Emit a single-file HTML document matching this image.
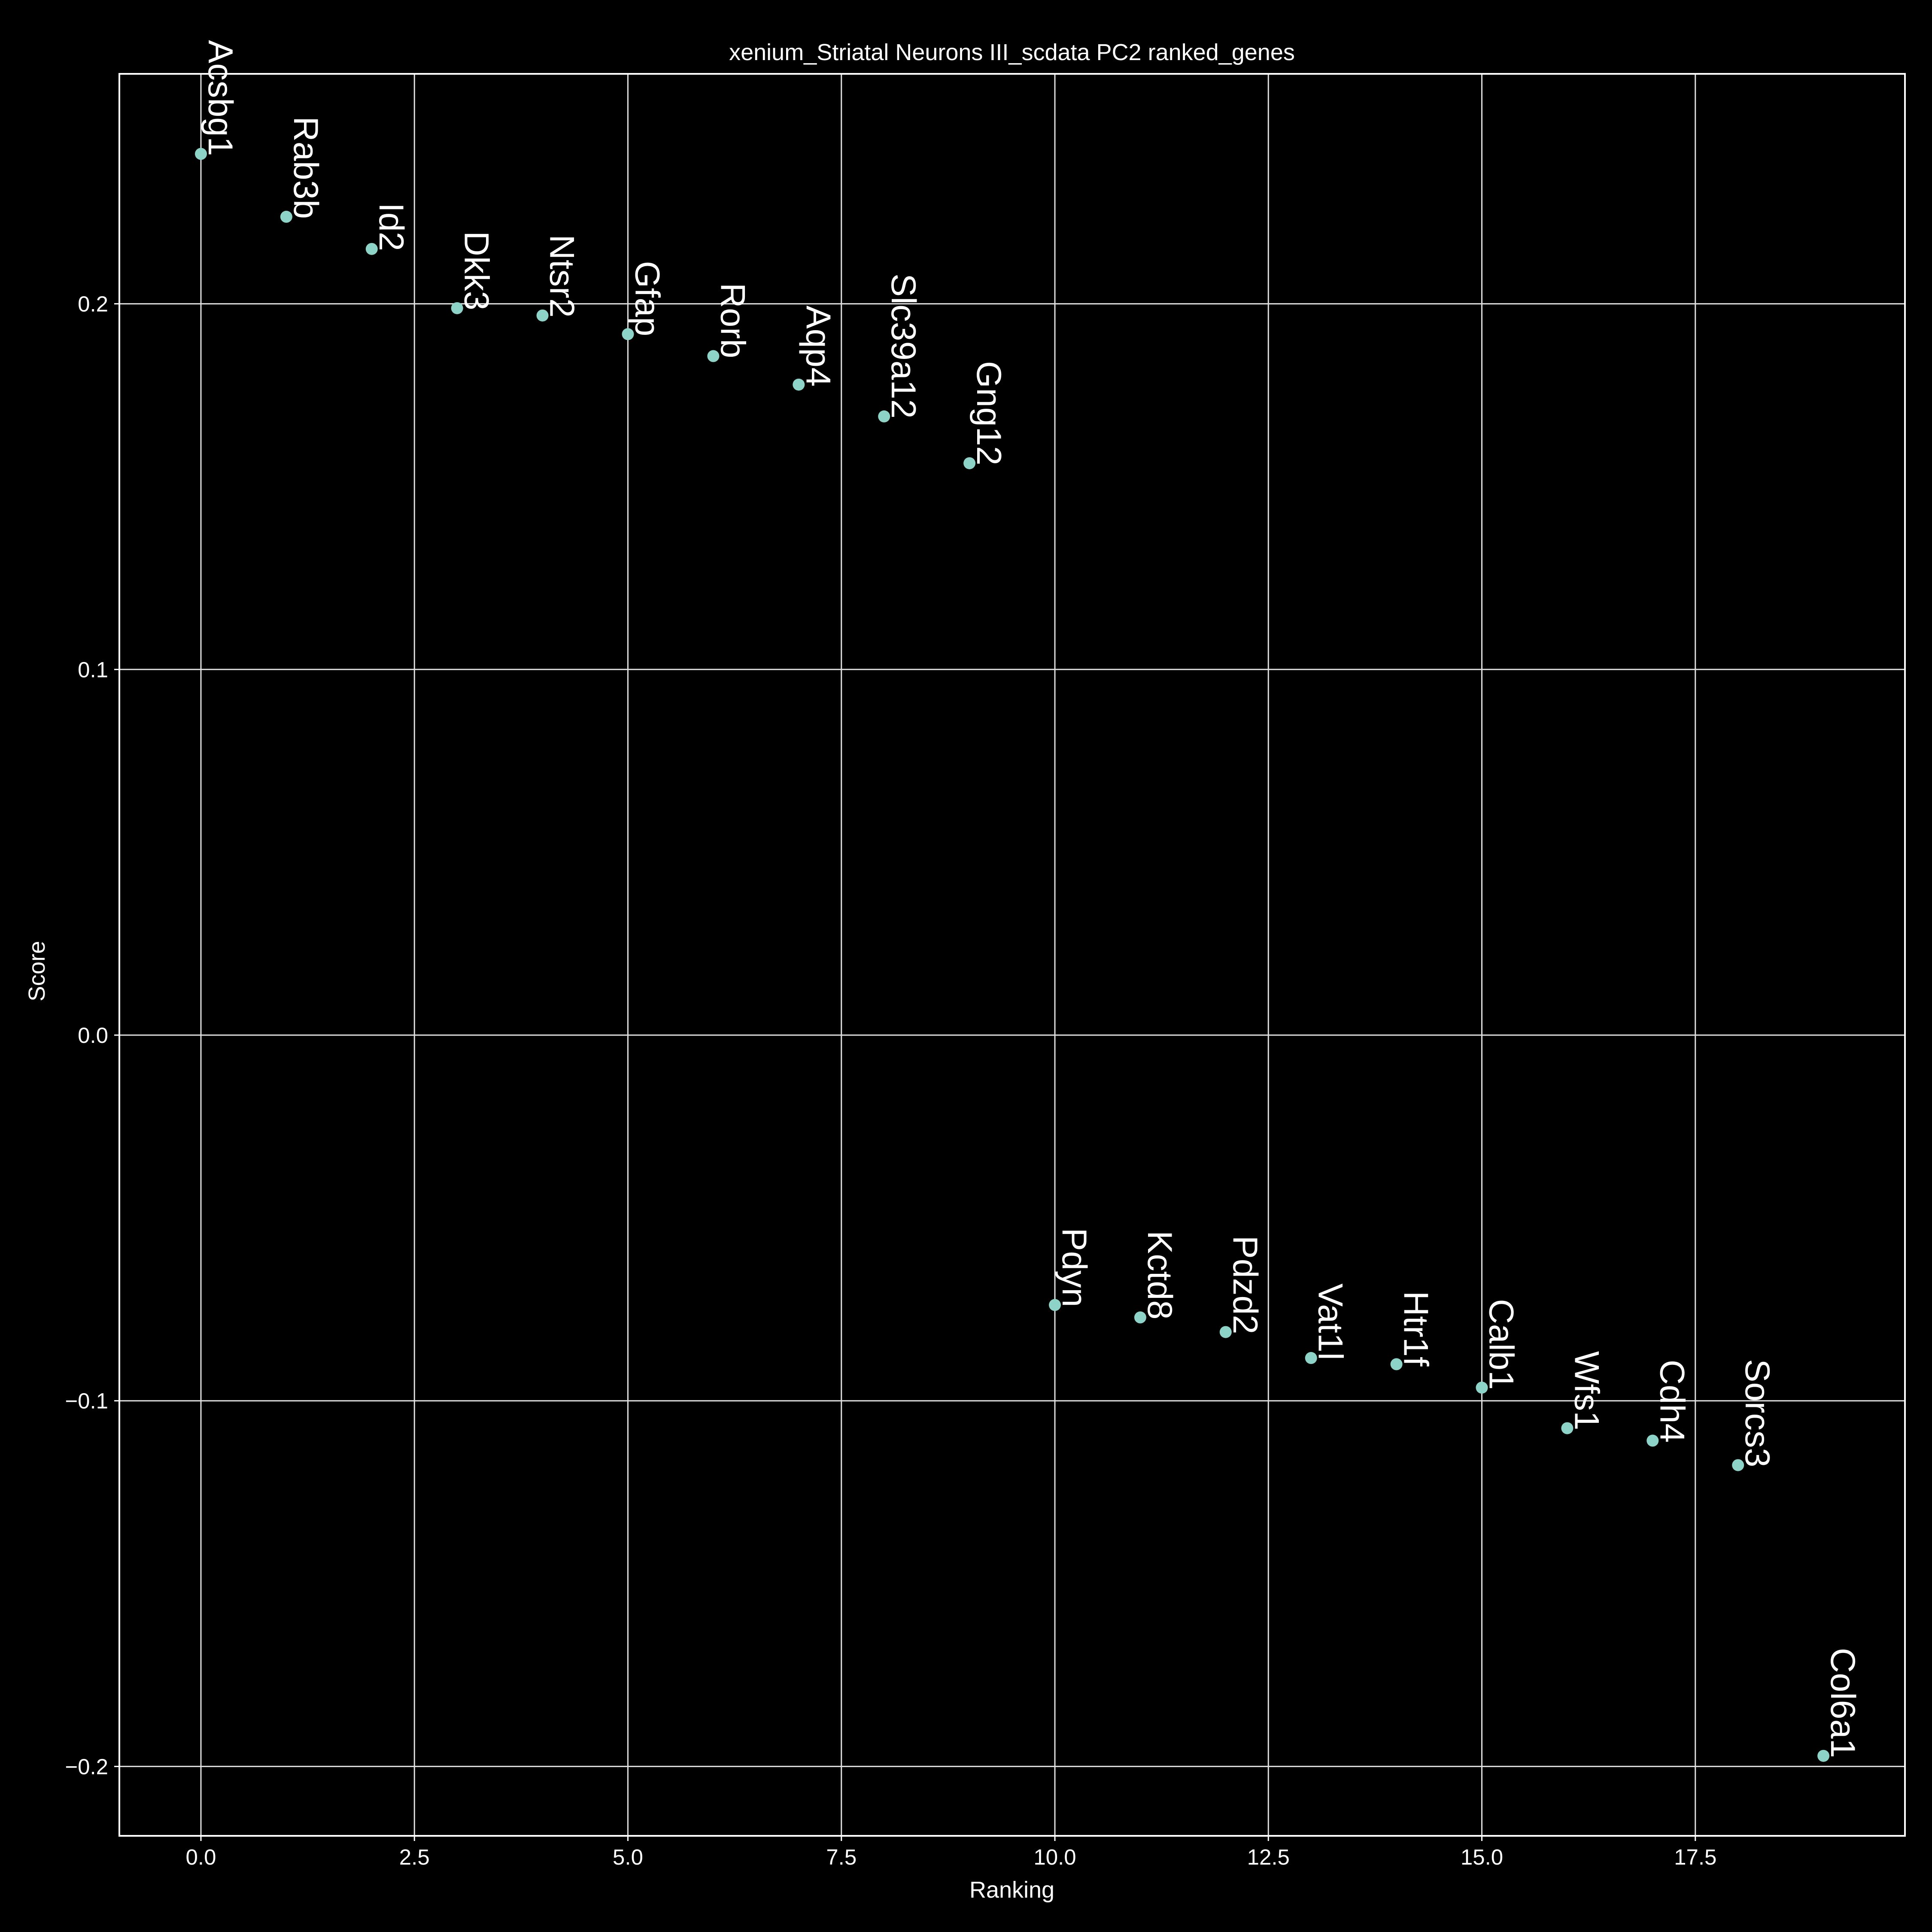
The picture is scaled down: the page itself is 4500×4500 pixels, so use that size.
<!DOCTYPE html>
<html><head><meta charset="utf-8"><style>html,body{margin:0;padding:0;background:#000;}svg{display:block;}</style></head>
<body>
<svg id="chart" xmlns="http://www.w3.org/2000/svg" width="4500" height="4500" viewBox="0 0 4500 4500" font-family="Liberation Sans, sans-serif">
<rect width="4500" height="4500" fill="#000"/>
<text x="2357" y="140" fill="#fff" font-size="54" text-anchor="middle">xenium_Striatal Neurons III_scdata PC2 ranked_genes</text>
<text x="2357" y="4420" fill="#fff" font-size="54" text-anchor="middle">Ranking</text>
<text transform="translate(104,2262) rotate(-90)" fill="#fff" font-size="54" text-anchor="middle">Score</text>
<g id="grid"></g><g id="ticks"></g><g id="marks"></g>
<rect x="278" y="172" width="4159" height="4104" fill="none" stroke="#fff" stroke-width="4"/>
</svg>
<script>
const genes=["Acsbg1","Rab3b","Id2","Dkk3","Ntsr2","Gfap","Rorb","Aqp4","Slc39a12","Gng12","Pdyn","Kctd8","Pdzd2","Vat1l","Htr1f","Calb1","Wfs1","Cdh4","Sorcs3","Col6a1"];
const scores=[0.241,0.2238,0.215,0.1988,0.1968,0.1917,0.1857,0.1779,0.1692,0.1564,-0.0738,-0.0772,-0.0812,-0.0883,-0.090,-0.0964,-0.1075,-0.1109,-0.1176,-0.1971];
const xTicks=[0,2.5,5,7.5,10,12.5,15,17.5];
const xTickLabels=["0.0","2.5","5.0","7.5","10.0","12.5","15.0","17.5"];
const yTicks=[-0.2,-0.1,0,0.1,0.2];
const yTickLabels=["\u22120.2","\u22120.1","0.0","0.1","0.2"];
const NS="http://www.w3.org/2000/svg";
const X0=278,X1=4437,Y0=172,Y1=4276;
function xs(v){return 468+v*198.9;}
function ys(v){return 2411-v*8517;}
function mk(t,a,p){const e=document.createElementNS(NS,t);for(const k in a)e.setAttribute(k,a[k]);p.appendChild(e);return e;}
const grid=document.getElementById('grid'),ticks=document.getElementById('ticks'),marks=document.getElementById('marks');
xTicks.forEach((v,i)=>{const x=xs(v);
const l=mk('line',{x1:x,x2:x,y1:Y0,y2:Y1,stroke:'#e0e0e0','stroke-width':3},grid);


const tk=mk('line',{x1:x,x2:x,y1:Y1,y2:Y1+12,stroke:'#fff','stroke-width':3},ticks);


const t=mk('text',{x:x,y:4343,fill:'#fff','font-size':51,'text-anchor':'middle'},ticks);t.textContent=xTickLabels[i];

});
yTicks.forEach((v,i)=>{const y=ys(v);
const l=mk('line',{x1:X0,x2:X1,y1:y,y2:y,stroke:'#e0e0e0','stroke-width':3},grid);


const tk=mk('line',{x1:X0-12,x2:X0,y1:y,y2:y,stroke:'#fff','stroke-width':3},ticks);


const t=mk('text',{x:252,y:y+18,fill:'#fff','font-size':51,'text-anchor':'end'},ticks);t.textContent=yTickLabels[i];

});
genes.forEach((g,i)=>{const x=xs(i),y=ys(scores[i]);
const c=mk('circle',{cx:x,cy:y,r:14,fill:'#8dd3c7'},marks);


const t=mk('text',{transform:`translate(${x+18},${y+5}) rotate(90)`,fill:'#fff','font-size':81,'text-anchor':'end'},marks);t.textContent=g;

});
</script>
</body></html>
